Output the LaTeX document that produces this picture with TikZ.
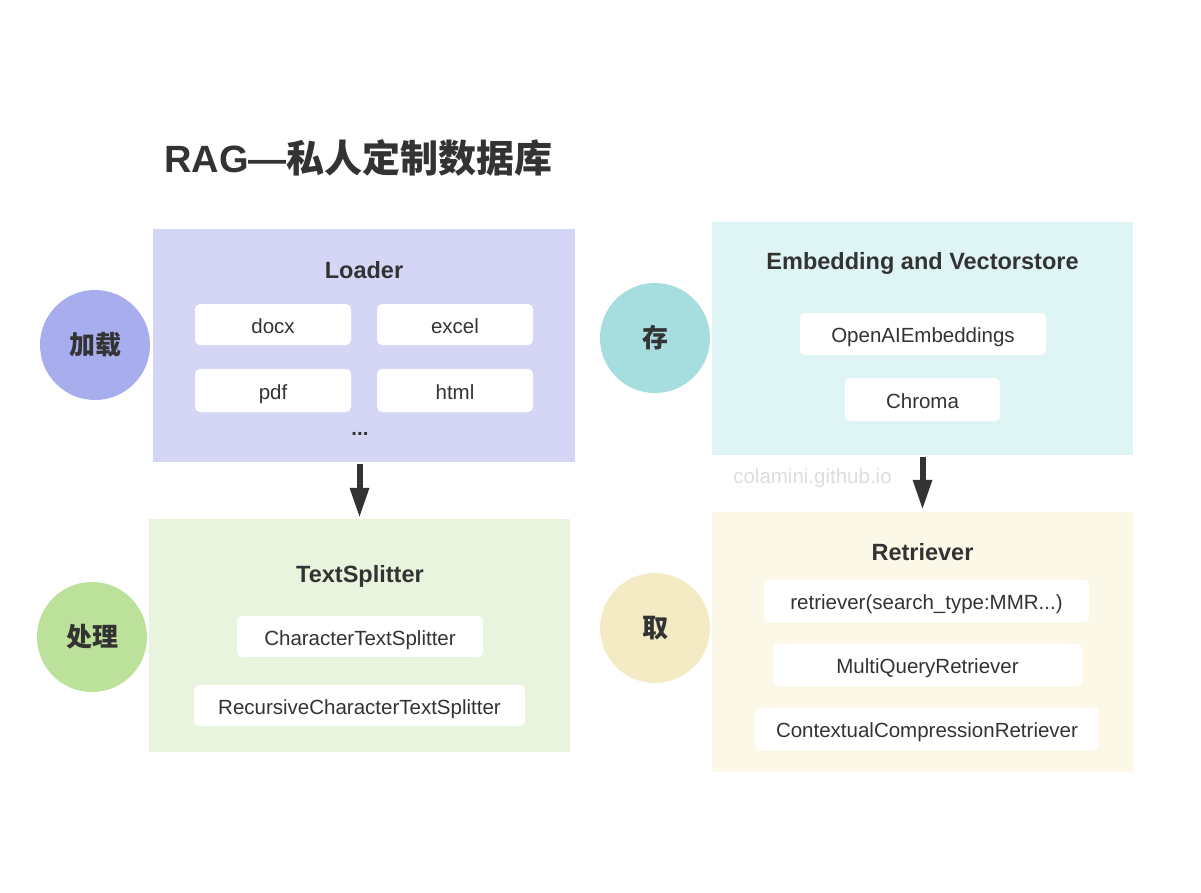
\documentclass[tikz,border=0pt]{standalone}
\usepackage{fontspec}
\setmainfont{Liberation Sans}
\newfontfamily\cjk{Noto Sans CJK SC}
\usetikzlibrary{arrows.meta}
\definecolor{ink}{HTML}{333333}
\definecolor{loadbg}{HTML}{D5D6F6}
\definecolor{loadc}{HTML}{A8ADEE}
\definecolor{splitbg}{HTML}{E8F4DD}
\definecolor{splitc}{HTML}{BCE19A}
\definecolor{embbg}{HTML}{DFF4F5}
\definecolor{embc}{HTML}{A6DEDF}
\definecolor{retbg}{HTML}{FBF8E8}
\definecolor{retc}{HTML}{F4EBC4}
\definecolor{wm}{HTML}{DDDDDD}
\tikzset{
  panel/.style={rectangle, inner sep=0pt, draw=none},
  item/.style={rectangle, rounded corners=5pt, fill=white, inner sep=0pt, text=ink,
    text height=17.5pt, text depth=0pt,
    font=\fontsize{20.5}{24}\selectfont},
  ptitle/.style={text=ink, inner sep=0pt, font=\fontsize{23.5}{28}\selectfont\bfseries},
  stage/.style={circle, minimum size=110pt, inner sep=0pt, text=ink,
    font=\fontsize{26}{30}\selectfont\cjk\bfseries},
  arr/.style={draw=ink, line width=6pt, -{Triangle[length=30pt,width=18pt]}}
}
\begin{document}
\begin{tikzpicture}[x=1pt,y=-1pt]
\useasboundingbox (0,0) rectangle (1201,892);
\fill[white] (0,0) rectangle (1201,892);

\node[anchor=west, text=ink, inner sep=0pt, font=\fontsize{38}{44}\selectfont\bfseries] (title) at (164,158) {RAG—{\cjk 私人定制数据库}};

% Loader
\node[panel, fill=loadbg, minimum width=422pt, minimum height=233pt] (loader) at (364,345.5) {};
\node[ptitle] (loadert) at (364,270) {Loader};
\node[item, minimum width=156pt, minimum height=41pt] (docx) at (273,324.5) {docx};
\node[item, minimum width=156pt, minimum height=41pt] (excel) at (455,324.5) {excel};
\node[item, minimum width=156pt, minimum height=43pt] (pdf) at (273,390.5) {pdf};
\node[item, minimum width=156pt, minimum height=43pt] (html) at (455,390.5) {html};
\node[text=ink, inner sep=0pt, font=\fontsize{20.5}{24}\selectfont\bfseries] (dots) at (360,434) {...};
\node[stage, fill=loadc] (c1) at (95,345) {加载};

% TextSplitter
\node[panel, fill=splitbg, minimum width=421pt, minimum height=233pt] (ts) at (359.5,635.5) {};
\node[ptitle] (tst) at (360,576) {TextSplitter};
\node[item, minimum width=246pt, minimum height=41pt] (cts) at (360,636.5) {CharacterTextSplitter};
\node[item, minimum width=331pt, minimum height=41pt] (rcts) at (359.5,705.5) {RecursiveCharacterTextSplitter};
\node[stage, fill=splitc] (c2) at (92,637) {处理};

% Embedding
\node[panel, fill=embbg, minimum width=421pt, minimum height=233pt] (emb) at (922.5,338.5) {};
\node[ptitle] (embt) at (922.5,263) {Embedding and Vectorstore};
\node[item, minimum width=246pt, minimum height=42pt] (oai) at (923,334) {OpenAIEmbeddings};
\node[item, minimum width=155pt, minimum height=43pt] (chroma) at (922.5,399.5) {Chroma};
\node[stage, fill=embc] (c3) at (655,338) {存};

% Retriever
\node[panel, fill=retbg, minimum width=421pt, minimum height=260pt] (ret) at (922.5,642) {};
\node[ptitle] (rett) at (922.5,552) {Retriever};
\node[item, minimum width=325pt, minimum height=42pt] (r1) at (926.5,601) {retriever(search\_type:MMR...)};
\node[item, minimum width=309pt, minimum height=42pt] (r2) at (927.5,665) {MultiQueryRetriever};
\node[item, minimum width=344pt, minimum height=42pt] (r3) at (927,729) {ContextualCompressionRetriever};
\node[stage, fill=retc] (c4) at (655,628) {取};

% watermark
\node[text=wm, inner sep=0pt, font=\fontsize{20.5}{24}\selectfont] (wmk) at (812.5,478) {colamini.github.io};

% arrows
\draw[arr, shorten <=2pt, shorten >=1pt] (loader.south -| ts.north) -- (ts.north);
\draw[arr, shorten <=2pt, shorten >=2pt] (emb.south) -- (ret.north);
\end{tikzpicture}
\end{document}
